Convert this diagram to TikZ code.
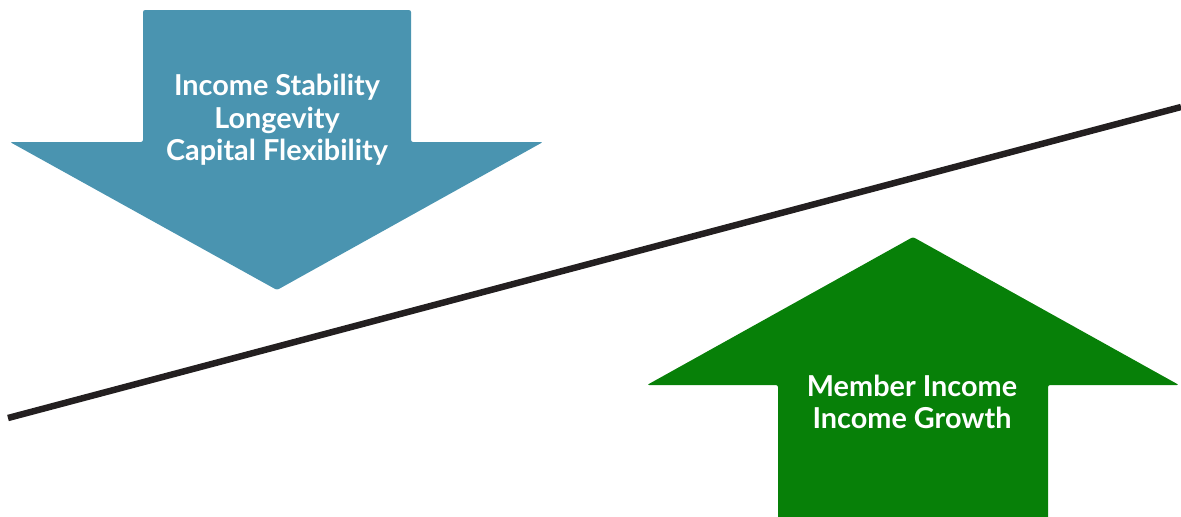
\documentclass[tikz,border=0pt]{standalone}
\usepackage{fontspec}
\setmainfont{Lato}
\definecolor{shiftblue}{RGB}{74,148,176}
\definecolor{shiftgreen}{RGB}{7,128,8}
\definecolor{beamgray}{RGB}{35,31,32}
\tikzset{
	arrowlabel/.style={text=white, align=center, font=\fontsize{20.5}{23}\selectfont\bfseries},
}
\begin{document}
\begin{tikzpicture}[x=0.025cm, y=-0.025cm]
	\useasboundingbox (0,0) rectangle (1181,516);
	
	%balance beam
	\draw[beamgray, line width=6.5pt*0.025/0.0352778] (8,418) -- (1181,107);
	
	%downward arrow
	\fill[shiftblue, rounded corners=1.5pt] (143,10) -- (411,10) -- (411,142) -- (543,142)
		-- (277,290) -- (10,142) -- (143,142) -- cycle;
	\node[arrowlabel] (down) at (277,120) {Income Stability\\Longevity\\Capital Flexibility};
	
	%upward arrow
	\fill[shiftgreen, rounded corners=1.5pt] (778,530) -- (778,385) -- (647,385)
		-- (913,237) -- (1179,385) -- (1048,385) -- (1048,530) -- cycle;
	\node[arrowlabel] (up) at (912,402) {Member Income\\Income Growth};
\end{tikzpicture}
\end{document}
